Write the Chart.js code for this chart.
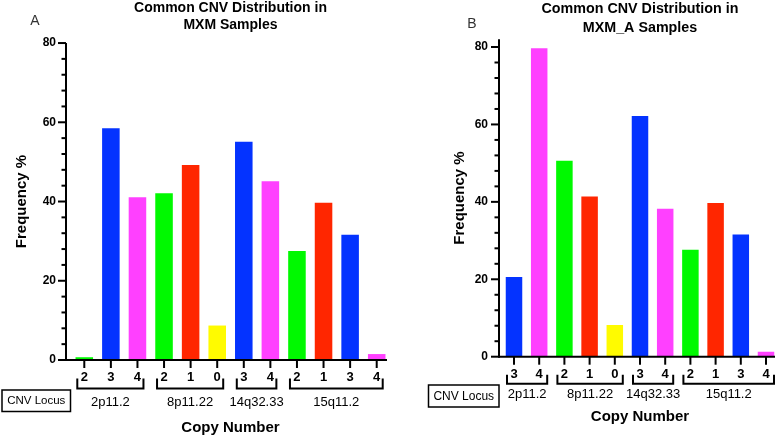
<!DOCTYPE html>
<html><head><meta charset="utf-8">
<script src="https://cdn.jsdelivr.net/npm/chart.js@4.4.1/dist/chart.umd.min.js"></script>
<style>
body{margin:0;background:#fff;width:784px;height:438px;overflow:hidden;position:relative;}
canvas{position:absolute;top:0;}
</style></head>
<body>
<canvas id="chartA" width="400" height="438" style="left:0;width:400px;height:438px"></canvas>
<canvas id="chartB" width="384" height="438" style="left:400px;width:384px;height:438px"></canvas>
<script>
// ---- Data ----
const copyNumbersA = ['2','3','4','2','1','0','3','4','2','1','3','4'];
const frequencyA   = [0.7, 58.5, 41.1, 42.1, 49.2, 8.7, 55.1, 45.1, 27.5, 39.7, 31.6, 1.5];
const lociA        = ['2p11.2','8p11.22','14q32.33','15q11.2'];
const locusSizesA  = [3, 3, 2, 4];

const copyNumbersB = ['3','4','2','1','0','3','4','2','1','3','4'];
const frequencyB   = [20.6, 79.7, 50.6, 41.4, 8.2, 62.2, 38.2, 27.6, 39.7, 31.6, 1.3];
const lociB        = ['2p11.2','8p11.22','14q32.33','15q11.2'];
const locusSizesB  = [2, 3, 2, 4];

const yTickLabels = ['0','20','40','60','80'];

// ---- Styles ----
const copyColors = {'0':'#FFFB00','1':'#FF2600','2':'#00F900','3':'#0433FF','4':'#FF40FF'};
const FONT = "'Liberation Sans', Arial, Helvetica, sans-serif";

function decorPlugin(cfg){
  return {
    id:'decor',
    afterDraw(chart){
      const ctx = chart.ctx;
      const xs = chart.scales.x, ys = chart.scales.y;
      ctx.save();
      ctx.strokeStyle = '#000'; ctx.fillStyle = '#000';
      ctx.lineWidth = 2; ctx.lineCap = 'butt';
      const ax = cfg.axisX;
      const yb = ys.getPixelForValue(0);
      const yt = ys.getPixelForValue(ys.max);
      // y axis line
      ctx.beginPath(); ctx.moveTo(ax, yt); ctx.lineTo(ax, yb + 1); ctx.stroke();
      // y ticks
      ys.ticks.forEach(t => {
        if (t.value % 4 !== 0) return;
        const py = ys.getPixelForValue(t.value);
        const len = (t.value % 20 === 0) ? 8 : 4.5;
        ctx.beginPath(); ctx.moveTo(ax - len, py); ctx.lineTo(ax, py); ctx.stroke();
      });
      // x axis line
      ctx.beginPath(); ctx.moveTo(ax, yb); ctx.lineTo(cfg.axisRight, yb); ctx.stroke();
      // x ticks
      xs.ticks.forEach((t, i) => {
        const px = xs.getPixelForTick(i);
        ctx.beginPath(); ctx.moveTo(px, yb); ctx.lineTo(px, yb + 8); ctx.stroke();
      });
      // brackets + locus labels
      let idx = 0;
      ctx.font = '13px ' + FONT;
      ctx.textAlign = 'center'; ctx.textBaseline = 'middle';
      cfg.loci.forEach((name, g) => {
        const n = cfg.sizes[g];
        const x1 = xs.getPixelForTick(idx) - cfg.bl;
        const x2 = xs.getPixelForTick(idx + n - 1) + cfg.br;
        idx += n;
        const by = yb + cfg.bracketDy;
        ctx.beginPath();
        ctx.moveTo(x1, by - cfg.bracketH); ctx.lineTo(x1, by); ctx.lineTo(x2, by); ctx.lineTo(x2, by - cfg.bracketH);
        ctx.stroke();
        ctx.fillText(name, (x1 + x2) / 2, by + cfg.labelDy);
      });
      // CNV Locus box
      const b = cfg.box;
      ctx.lineWidth = 1.5;
      ctx.strokeRect(b.x, b.y, b.w, b.h);
      ctx.font = b.font + 'px ' + FONT;
      ctx.fillText('CNV Locus', b.x + b.w / 2, b.y + b.h / 2 + 0.5);
      // panel letter
      ctx.fillStyle = '#333';
      ctx.font = '14px ' + FONT;
      ctx.fillText(cfg.letter, cfg.letterX, cfg.letterY);
      ctx.restore();
    }
  };
}

function makeChart(id, cats, vals, o){
  return new Chart(document.getElementById(id), {
    type:'bar',
    data:{
      labels:cats,
      datasets:[{
        data:vals,
        backgroundColor:cats.map(c => copyColors[c]),
        borderWidth:0,
        barPercentage:o.barPct,
        categoryPercentage:1
      }]
    },
    options:{
      responsive:false, animation:false, devicePixelRatio:1,
      layout:{padding:{left:0, right:o.padRight, top:0, bottom:0}},
      plugins:{
        legend:{display:false}, tooltip:{enabled:false},
        title:{
          display:true, fullSize:false, text:o.title, color:'#000',
          font:{family:FONT, size:o.titleSize, weight:'bold', lineHeight:o.titleLH},
          padding:{top:0, bottom:o.titlePadB}
        }
      },
      scales:{
        x:{
          grid:{display:false, drawTicks:false}, border:{display:false},
          ticks:{color:'#000', font:{family:FONT, size:13, weight:'bold'}, padding:10, autoSkip:false, maxRotation:0},
          title:{display:true, text:'Copy Number', color:'#000', font:{family:FONT, size:15, weight:'bold'}, padding:{top:0, bottom:o.xTitlePadB}},
          afterFit:s => { s.height = o.xHeight; }
        },
        y:{
          min:0, max:o.yMax,
          grid:{display:false, drawTicks:false}, border:{display:false},
          afterBuildTicks:s => {
            const t = [];
            for (let v = 0; v <= Number(yTickLabels[yTickLabels.length - 1]); v += 4) t.push({value:v});
            s.ticks = t;
          },
          ticks:{
            autoSkip:false, color:'#000',
            font:{family:FONT, size:12, weight:'bold'}, padding:o.yTickPad,
            callback:v => yTickLabels.includes(String(v)) ? String(v) : ''
          },
          title:{display:true, text:'Frequency %', color:'#000', font:{family:FONT, size:15, weight:'bold'}, padding:{top:o.yTitlePad, bottom:0}},
          afterFit:s => { s.width = o.yWidth; }
        }
      }
    },
    plugins:[decorPlugin(o.decor)]
  });
}

makeChart('chartA', copyNumbersA, frequencyA, {
  title:['Common CNV Distribution in','MXM Samples'], titleSize:14, titleLH:1.18, titlePadB:10,
  padRight:10, yWidth:71, yTickPad:15, yTitlePad:13, yMax:80,
  xHeight:78, xTitlePadB:1, barPct:0.66,
  decor:{axisX:66, axisRight:387, loci:lociA, sizes:locusSizesA, bl:7, br:6,
    bracketDy:28.5, bracketH:10, labelDy:14,
    box:{x:2, y:390, w:68.5, h:21.5, font:11.5}, letter:'A', letterX:35, letterY:21}
});

makeChart('chartB', copyNumbersB, frequencyB, {
  title:['Common CNV Distribution in','MXM_A Samples'], titleSize:14.3, titleLH:1.3, titlePadB:2.1,
  padRight:5.4, yWidth:101.4, yTickPad:13.4, yTitlePad:51, yMax:82,
  xHeight:81.3, xTitlePadB:12, barPct:0.655,
  decor:{axisX:99, axisRight:375, loci:lociB, sizes:locusSizesB, bl:7, br:8,
    bracketDy:27, bracketH:9, labelDy:11,
    box:{x:28.5, y:385, w:70.5, h:22, font:12}, letter:'B', letterX:72, letterY:24}
});
</script>
</body></html>
